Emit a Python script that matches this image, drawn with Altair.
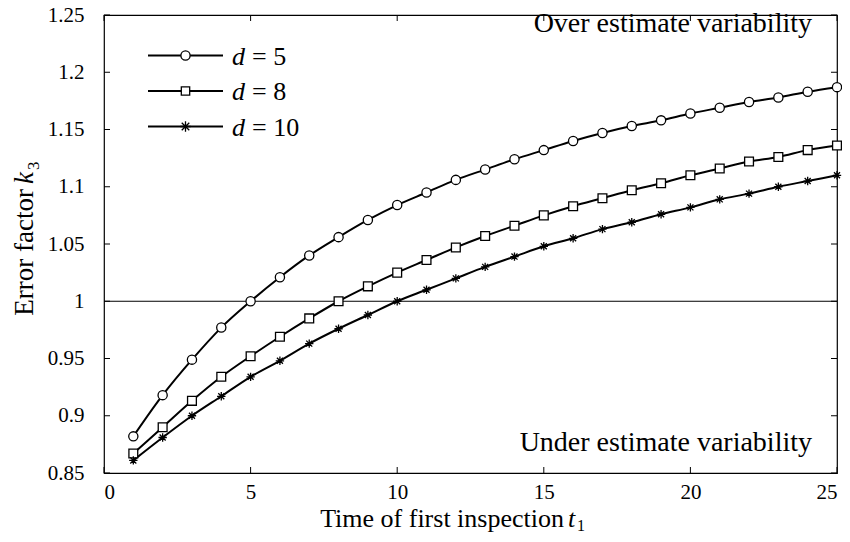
import altair as alt
import pandas as pd

# ---- data ----
t_values = list(range(1, 26))
k_d5 = [0.882, 0.918, 0.949, 0.977, 1.000, 1.021, 1.040, 1.056, 1.071, 1.084,
        1.095, 1.106, 1.115, 1.124, 1.132, 1.140, 1.147, 1.153, 1.158, 1.164,
        1.169, 1.174, 1.178, 1.183, 1.187]
k_d8 = [0.867, 0.890, 0.913, 0.934, 0.952, 0.969, 0.985, 1.000, 1.013, 1.025,
        1.036, 1.047, 1.057, 1.066, 1.075, 1.083, 1.090, 1.097, 1.103, 1.110,
        1.116, 1.122, 1.126, 1.132, 1.136]
k_d10 = [0.861, 0.881, 0.900, 0.917, 0.934, 0.948, 0.963, 0.976, 0.988, 1.000,
         1.010, 1.020, 1.030, 1.039, 1.048, 1.055, 1.063, 1.069, 1.076, 1.082,
         1.089, 1.094, 1.100, 1.105, 1.110]
series_names = ["d = 5", "d = 8", "d = 10"]
legend_values = ["= 5", "= 8", "= 10"]
x_ticks = [0, 5, 10, 15, 20, 25]
y_ticks = [0.85, 0.9, 0.95, 1.0, 1.05, 1.1, 1.15, 1.2, 1.25]
reference_level = 1.0
over_text = "Over estimate variability"
under_text = "Under estimate variability"

STAR = "M-1,0L1,0M0,-1L0,1M-0.72,-0.72L0.72,0.72M-0.72,0.72L0.72,-0.72"
shapes = ["circle", "square", STAR]
sizes = [85, 70, 110]

FONT = "Liberation Serif"
W, H = 733, 458

rows = []
for name, vals in zip(series_names, [k_d5, k_d8, k_d10]):
    for t, k in zip(t_values, vals):
        rows.append({"t": t, "k": k, "series": name})
df = pd.DataFrame(rows)

xscale = alt.Scale(domain=[0, 25], nice=False, zero=False)
yscale = alt.Scale(domain=[0.85, 1.25], nice=False, zero=False)

xaxis = alt.Axis(values=x_ticks, domain=False, ticks=False, tickSize=0, grid=False,
                 labelFont=FONT, labelFontSize=21, labelPadding=8, labelColor="black",
                 title=None)
yaxis = alt.Axis(values=y_ticks, format="~g", domain=False, ticks=False, tickSize=0,
                 grid=False, labelFont=FONT, labelFontSize=21, labelPadding=20,
                 labelColor="black", title=None)

base = alt.Chart(df)
lines = base.mark_line(color="black", strokeWidth=2, interpolate="monotone").encode(
    x=alt.X("t:Q", scale=xscale, axis=xaxis),
    y=alt.Y("k:Q", scale=yscale, axis=yaxis),
    detail="series:N",
)
points = base.mark_point(filled=True, fill="white", stroke="black", strokeWidth=1.3,
                         opacity=1).encode(
    x=alt.X("t:Q", scale=xscale),
    y=alt.Y("k:Q", scale=yscale),
    shape=alt.Shape("series:N", scale=alt.Scale(domain=series_names, range=shapes), legend=None),
    size=alt.Size("series:N", scale=alt.Scale(domain=series_names, range=sizes), legend=None),
)

ref = alt.Chart(pd.DataFrame({"k": [reference_level]})).mark_rule(
    color="black", strokeWidth=1).encode(y=alt.Y("k:Q", scale=yscale))

# inward ticks on all four sides
xt = pd.DataFrame({"t": x_ticks})
yt = pd.DataFrame({"k": y_ticks})
tick_style = dict(color="black", strokeWidth=1)
xt_bottom = alt.Chart(xt).mark_rule(**tick_style).encode(
    x=alt.X("t:Q", scale=xscale), y=alt.value(H), y2=alt.value(H - 6))
xt_top = alt.Chart(xt).mark_rule(**tick_style).encode(
    x=alt.X("t:Q", scale=xscale), y=alt.value(0), y2=alt.value(6))
yt_left = alt.Chart(yt).mark_rule(**tick_style).encode(
    y=alt.Y("k:Q", scale=yscale), x=alt.value(0), x2=alt.value(6))
yt_right = alt.Chart(yt).mark_rule(**tick_style).encode(
    y=alt.Y("k:Q", scale=yscale), x=alt.value(W), x2=alt.value(W - 6))

one = pd.DataFrame({"a": [0]})


def txt(s, x, y, size=24, align="left", baseline="alphabetic", style="normal", angle=0):
    kw = dict(font=FONT, fontSize=size, align=align, baseline=baseline,
              fontStyle=style, color="black")
    if angle:
        kw["angle"] = angle
    return alt.Chart(one).mark_text(**kw).encode(
        x=alt.value(x), y=alt.value(y), text=alt.value(s))


layers = [ref, lines, points, xt_bottom, xt_top, yt_left, yt_right]

# legend
row_y = [40.5, 76.0, 111.5]
for i, ry in enumerate(row_y):
    layers.append(alt.Chart(one).mark_rule(color="black", strokeWidth=2).encode(
        x=alt.value(44), x2=alt.value(119), y=alt.value(ry)))
    layers.append(alt.Chart(one).mark_point(shape=shapes[i], size=sizes[i], filled=True,
                                            fill="white", stroke="black", strokeWidth=1.3,
                                            opacity=1).encode(
        x=alt.value(81.5), y=alt.value(ry)))
    layers.append(txt("d", 128, ry + 9, size=26, style="italic"))
    layers.append(txt(legend_values[i], 148, ry + 9, size=26))

# annotations
layers.append(txt(over_text, 708, 16.5, size=28, align="right"))
layers.append(txt(under_text, 708, 435.5, size=28, align="right"))

# axis titles
layers.append(txt("Time of first inspection", 460, 511.5, size=26, align="right"))
layers.append(txt("t", 464, 511.5, size=26, style="italic"))
layers.append(txt("1", 473, 515.5, size=16))
layers.append(txt("Error factor", -71, 174, size=27, align="right", angle=270))
layers.append(txt("k", -71, 169, size=27, style="italic", align="left", angle=270))
layers.append(txt("3", -65, 155, size=17, align="left", angle=270))

chart = alt.layer(*layers).properties(
    width=W, height=H,
    autosize=alt.AutoSizeParams(type="none"),
    padding={"left": 96, "top": 7, "right": 5, "bottom": 61},
).configure(
    font=FONT,
    background="white",
    view=alt.ViewConfig(stroke="black", strokeWidth=1.2),
    axis=alt.AxisConfig(labelFont=FONT, labelColor="black"),
)

chart.save("out.html", embed_options={"renderer": "svg", "actions": False})
